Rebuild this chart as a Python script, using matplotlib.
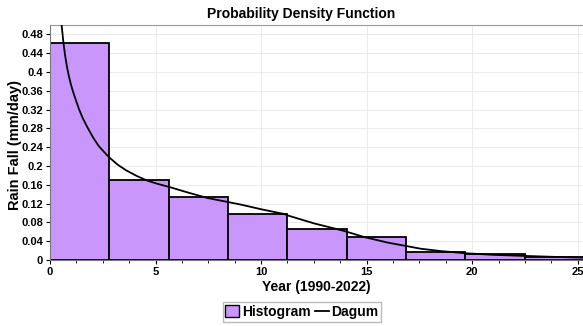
import matplotlib
matplotlib.use("Agg")
import matplotlib.pyplot as plt
from matplotlib.patches import Patch
from matplotlib.lines import Line2D
from matplotlib.ticker import MultipleLocator, FuncFormatter

plt.rcParams['font.family'] = ['Liberation Sans', 'DejaVu Sans']

# Histogram data
bin_left = [0, 2.81, 5.62, 8.43, 11.24, 14.05, 16.86, 19.67, 22.48]
bin_width = 2.81
bin_height = [0.461, 0.170, 0.135, 0.098, 0.065, 0.049, 0.016, 0.012, 0.007]

# Dagum fitted curve
curve_x = [0.48, 0.55, 0.63, 0.71, 0.80, 0.90, 1.00, 1.10, 1.25, 1.40, 1.55, 1.74,
           2.05, 2.30, 2.60, 2.84, 3.20, 3.60, 4.10, 4.60, 5.10, 5.68, 6.50, 7.45,
           8.47, 9.03, 10.0, 11.08, 11.32, 12.5, 13.92, 14.87, 16.0, 16.85, 17.56,
           18.5, 19.69, 21.0, 22.53, 24.0, 25.25]
curve_y = [0.545, 0.50, 0.465, 0.437, 0.412, 0.390, 0.372, 0.357, 0.337, 0.318, 0.302, 0.285,
           0.260, 0.243, 0.228, 0.217, 0.203, 0.191, 0.179, 0.169, 0.162, 0.155, 0.144, 0.132,
           0.123, 0.118, 0.108, 0.098, 0.094, 0.078, 0.062, 0.049, 0.037, 0.030, 0.024,
           0.019, 0.0143, 0.011, 0.0086, 0.0065, 0.005]

x_ticks = [0, 5, 10, 15, 20, 25]
y_ticks = [0, 0.04, 0.08, 0.12, 0.16, 0.2, 0.24, 0.28, 0.32, 0.36, 0.4, 0.44, 0.48]

fig = plt.figure(figsize=(5.83, 3.26), dpi=100)
ax = fig.add_axes([50/583, 1-260/326, 1-50/583, 235/326])

ax.bar(bin_left, bin_height, width=bin_width, align='edge', color='#c996fc',
       edgecolor='black', linewidth=1.3, zorder=2)
ax.plot(curve_x, curve_y, color='black', linewidth=1.3, zorder=3,
        solid_joinstyle='round')

ax.set_xlim(0, 25.25)
ax.set_ylim(0, 0.5)
ax.set_xticks(x_ticks)
ax.set_yticks(y_ticks)
ax.xaxis.set_minor_locator(MultipleLocator(1.25))
ax.yaxis.set_major_formatter(FuncFormatter(lambda v, p: f"{v:g}"))
ax.tick_params(axis='both', which='major', labelsize=8, length=3, width=0.8, pad=2)
ax.tick_params(axis='both', which='minor', length=2, width=0.6)
for lab in ax.get_xticklabels() + ax.get_yticklabels():
    lab.set_fontweight('bold')

ax.grid(True, color='#e8e8e8', linewidth=0.6, zorder=0)
ax.set_axisbelow(True)
ax.spines['right'].set_visible(False)
ax.spines['top'].set_color('#999999')
ax.spines['left'].set_color('#777777')
ax.spines['bottom'].set_color('#777777')

ax.set_xlabel('Year (1990-2022)', fontsize=10, fontweight='bold', labelpad=2)
ax.set_ylabel('Rain Fall (mm/day)', fontsize=10.5, fontweight='bold')
ax.yaxis.set_label_coords(-0.053, 0.49)
fig.text(301/583, 1-14/326, 'Probability Density Function', ha='center', va='center',
         fontsize=10, fontweight='bold')

handles = [Patch(facecolor='#c996fc', edgecolor='black', linewidth=1.0),
           Line2D([0], [0], color='black', linewidth=1.3)]
leg = fig.legend(handles, ['Histogram', 'Dagum'], loc='center', ncol=2,
                 bbox_to_anchor=(302/583, 1-312/326), frameon=True, fancybox=False,
                 edgecolor='#aaaaaa', prop={'weight': 'bold', 'size': 10},
                 handlelength=1.0, handleheight=1.0, handletextpad=0.2,
                 columnspacing=0.3, borderpad=0.2)

fig.savefig('out.png', dpi=100)
